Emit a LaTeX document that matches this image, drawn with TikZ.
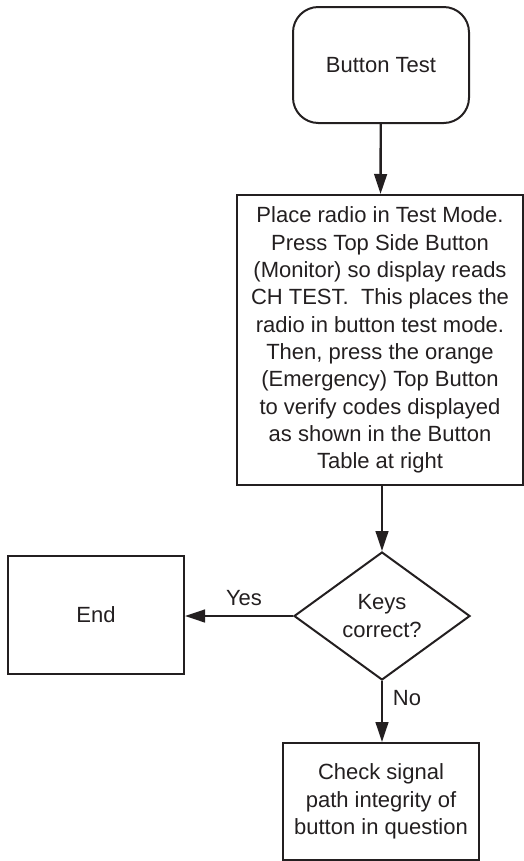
\documentclass[tikz,border=0pt]{standalone}
\usepackage{fontspec}
\setmainfont{Liberation Sans}
\usetikzlibrary{shapes.geometric,arrows.meta}
\definecolor{ink}{HTML}{231F20}
\begin{document}
\begin{tikzpicture}[
    x=0.75pt, y=-0.75pt, color=ink,
    box/.style={draw, line width=1.5pt, align=center, inner sep=2pt, font=\fontsize{16.5}{20.5}\selectfont},
    decision/.style={box, diamond, aspect=1.375, inner sep=0pt, minimum width=132pt, minimum height=96pt},
    arrow/.style={line width=1.8pt, -{Triangle[length=15pt, width=9.5pt]}},
    lbl/.style={font=\fontsize{16.5}{20.5}\selectfont}
]
    \useasboundingbox (0,0) rectangle (524,861);

    \node[box, rounded corners=19pt, minimum width=132pt, minimum height=87pt] (start) at (381,65) {Button Test};
    \node[box, minimum width=214.5pt, minimum height=217.5pt] (mode) at (380,340)
        {Place radio in Test Mode.\\Press Top Side Button\\(Monitor) so display reads\\CH TEST.\ \ This places the\\radio in button test mode.\\Then, press the orange\\(Emergency) Top Button\\to verify codes displayed\\as shown in the Button\\Table at right};
    \node[decision] (keys) at (382,616) {Keys\\correct?};
    \node[box, minimum width=132pt, minimum height=88.5pt] (end) at (96,615) {End};
    \node[box, minimum width=147pt, minimum height=87.75pt] (check) at (381,801.5)
        {Check signal\\path integrity of\\button in question};

    \draw[arrow] (start) -- (mode);
    \draw[arrow] (mode.south -| keys.north) -- (keys.north);
    \draw[arrow] (keys.west) -- (end.east |- keys.west);
    \draw[arrow] (keys.south) -- (check.north -| keys.south);

    \node[lbl] (yes) at (244,598) {Yes};
    \node[lbl] (no) at (407,698) {No};
\end{tikzpicture}
\end{document}
